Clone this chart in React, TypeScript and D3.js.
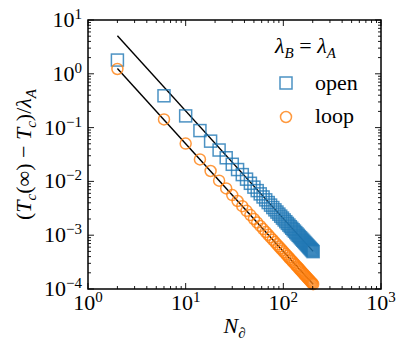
import React from 'react';
import * as d3 from 'd3';

// N values shared by both series
const sizes = [2, 6, 10, 14, 18, 22, 26, 30, 34, 38, 42, 46, 50, 54, 58, 62, 66, 70, 74, 78, 82, 86, 90, 94, 98,
    102, 106, 110, 114, 118, 122, 126, 130, 134, 138, 142, 146, 150, 154, 158, 162, 166, 170, 174, 178, 182,
    186, 190, 194, 198, 202];

const openValues = [1.8, 0.39, 0.165, 0.088, 0.056, 0.0383, 0.0275, 0.0208, 0.0166, 0.01338, 0.01101, 0.00922,
    0.00783, 0.00674, 0.00586, 0.00514, 0.00454, 0.00404, 0.003625, 0.003267, 0.00296, 0.002694, 0.002463,
    0.00226, 0.002081, 0.001922, 0.001781, 0.001655, 0.001542, 0.00144, 0.001348, 0.001265, 0.001189,
    0.001119, 0.001056, 0.000997, 0.000944, 0.000895, 0.000849, 0.000807, 0.000768, 0.000731, 0.000698,
    0.000666, 0.000637, 0.000609, 0.000583, 0.000559, 0.000536, 0.000515, 0.000495];

const loopValues = [1.23, 0.142, 0.0505, 0.0256, 0.0156, 0.01033, 0.0074, 0.00556, 0.004325, 0.003463, 0.002834,
    0.002363, 0.002, 0.001715, 0.001486, 0.001301, 0.001148, 0.00102, 0.000913, 0.000822, 0.000744, 0.000676,
    0.000617, 0.000566, 0.000521, 0.000481, 0.000445, 0.000413, 0.000385, 0.000359, 0.000336, 0.000315,
    0.000296, 0.000278, 0.000263, 0.000248, 0.000235, 0.000222, 0.000211, 0.0002, 0.000191, 0.000181,
    0.000173, 0.000165, 0.000158, 0.000151, 0.000145, 0.000139, 0.000133, 0.000128, 0.000123];

// fitted power laws ~ N^-2, given as end points
const openFit: [number, number][] = [[2, 5.1], [202, 0.0005]];
const loopFit: [number, number][] = [[2, 1.25], [202, 0.0001225]];

const xDecades = [0, 1, 2, 3];
const yDecades = [-4, -3, -2, -1, 0, 1];

const blue = '#1f77b4';
const orange = '#ff7f0e';
const font = "'Liberation Serif'";

const margin = {left: 88, right: 26, top: 20, bottom: 65};
const width = 407;
const height = 354;

function minorTicks(decades: number[]) {
    const out: number[] = [];
    for (let i = 0; i < decades.length - 1; i++) {
        for (let m = 2; m < 10; m++) out.push(m * Math.pow(10, decades[i]));
    }
    return out;
}

function sup(n: number) {
    return n < 0 ? '\u2212' + Math.abs(n) : String(n);
}

export default function App() {
    const x = d3.scaleLog().domain([1, 1000]).range([margin.left, width - margin.right]);
    const y = d3.scaleLog().domain([1e-4, 10]).range([height - margin.bottom, margin.top]);
    const [x0, x1] = x.range();
    const [y0, y1] = y.range();

    const line = d3.line<[number, number]>().x(d => x(d[0])).y(d => y(d[1]));

    const xMinor = minorTicks(xDecades);
    const yMinor = minorTicks(yDecades);
    const major = 6;
    const minor = 3;
    const ts = {fontFamily: font, fontSize: 22};
    const sub = {fontSize: 15};

    return (
        <svg width={width} height={height} style={{position: 'absolute', left: 0, top: 0}}>
            <rect width={width} height={height} fill="white"/>
            {/* fit lines */}
            <path d={line(openFit) || ''} stroke="black" strokeWidth={1.4} fill="none"/>
            <path d={line(loopFit) || ''} stroke="black" strokeWidth={1.4} fill="none"/>
            {/* data */}
            {sizes.map((n, i) => (
                <rect key={'o' + i} x={x(n) - 6} y={y(openValues[i]) - 6} width={12} height={12}
                      fill="none" stroke={blue} strokeWidth={1.5} strokeOpacity={0.8}/>
            ))}
            {sizes.map((n, i) => (
                <circle key={'l' + i} cx={x(n)} cy={y(loopValues[i])} r={5.5}
                        fill="none" stroke={orange} strokeWidth={1.5} strokeOpacity={0.8}/>
            ))}
            {/* ticks */}
            <g stroke="black" strokeWidth={0.9}>
                {xDecades.map(d => {
                    const px = x(Math.pow(10, d));
                    return <g key={'xt' + d}>
                        <line x1={px} x2={px} y1={y0} y2={y0 - major}/>
                        <line x1={px} x2={px} y1={y1} y2={y1 + major}/>
                    </g>;
                })}
                {xMinor.map((v, i) => {
                    const px = x(v);
                    return <g key={'xm' + i}>
                        <line x1={px} x2={px} y1={y0} y2={y0 - minor}/>
                        <line x1={px} x2={px} y1={y1} y2={y1 + minor}/>
                    </g>;
                })}
                {yDecades.map(d => {
                    const py = y(Math.pow(10, d));
                    return <g key={'yt' + d}>
                        <line x1={x0} x2={x0 + major} y1={py} y2={py}/>
                        <line x1={x1} x2={x1 - major} y1={py} y2={py}/>
                    </g>;
                })}
                {yMinor.map((v, i) => {
                    const py = y(v);
                    return <g key={'ym' + i}>
                        <line x1={x0} x2={x0 + minor} y1={py} y2={py}/>
                        <line x1={x1} x2={x1 - minor} y1={py} y2={py}/>
                    </g>;
                })}
            </g>
            <rect x={x0} y={y1} width={x1 - x0} height={y0 - y1} fill="none" stroke="black" strokeWidth={1.5}/>
            {/* tick labels */}
            {xDecades.map(d => (
                <text key={'xl' + d} style={ts} x={x(Math.pow(10, d))} y={310} textAnchor="middle">
                    10<tspan dy={-8} style={sub}>{sup(d)}</tspan>
                </text>
            ))}
            {yDecades.map(d => (
                <text key={'yl' + d} style={ts} x={82} y={y(Math.pow(10, d)) + 7} textAnchor="end">
                    10<tspan dy={-8} style={sub}>{sup(d)}</tspan>
                </text>
            ))}
            {/* axis labels */}
            <text style={ts} x={(x0 + x1) / 2} y={333} textAnchor="middle">
                <tspan fontStyle="italic">N</tspan>
                <tspan dy={5} style={sub} fontStyle="italic">∂</tspan>
            </text>
            <text style={ts} transform={`translate(31, ${(y0 + y1) / 2}) rotate(-90)`} textAnchor="middle">
                (<tspan fontStyle="italic">T</tspan>
                <tspan dy={5} style={sub} fontStyle="italic">c</tspan>
                <tspan dy={-5}>(∞) − </tspan>
                <tspan fontStyle="italic">T</tspan>
                <tspan dy={5} style={sub} fontStyle="italic">c</tspan>
                <tspan dy={-5}>)/</tspan>
                <tspan fontStyle="italic">λ</tspan>
                <tspan dy={5} style={sub} fontStyle="italic">A</tspan>
            </text>
            {/* legend */}
            <text style={ts} x={275} y={53}>
                <tspan fontStyle="italic">λ</tspan>
                <tspan dy={5} style={sub} fontStyle="italic">B</tspan>
                <tspan dy={-5}> = </tspan>
                <tspan fontStyle="italic">λ</tspan>
                <tspan dy={5} style={sub} fontStyle="italic">A</tspan>
            </text>
            <rect x={280} y={77} width={12} height={12} fill="none" stroke={blue} strokeWidth={1.5} strokeOpacity={0.8}/>
            <text style={ts} x={315} y={90}>open</text>
            <circle cx={286} cy={117} r={5.5} fill="none" stroke={orange} strokeWidth={1.5} strokeOpacity={0.8}/>
            <text style={ts} x={315} y={123}>loop</text>
        </svg>
    );
}
